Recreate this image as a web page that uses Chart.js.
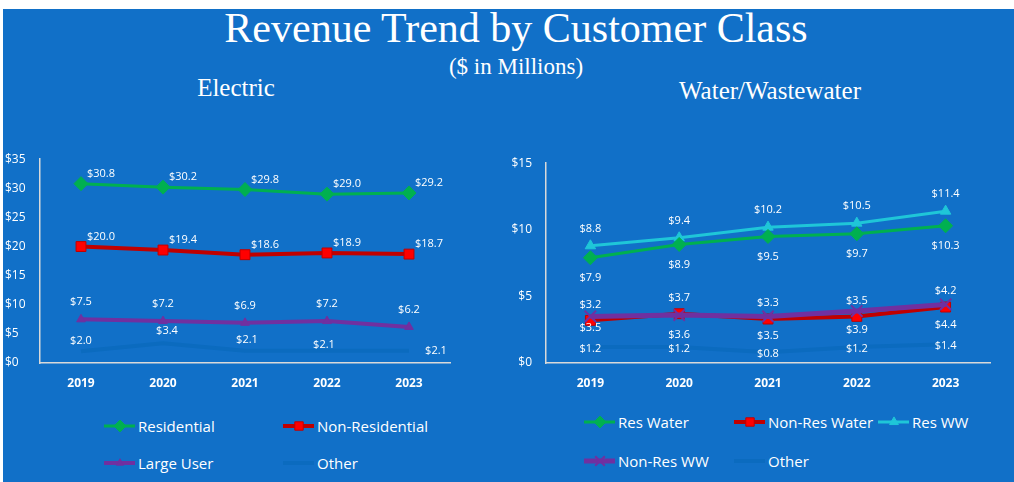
<!DOCTYPE html>
<html>
<head>
<meta charset="utf-8">
<script src="https://cdn.jsdelivr.net/npm/chart.js@4.4.1/dist/chart.umd.min.js"></script>
<style>
    html, body { margin: 0; padding: 0; background: #ffffff; width: 1014px; height: 482px; overflow: hidden; }
    #panel { position: absolute; left: 3px; top: 9px; width: 1011px; height: 473px; background: #1170C8; }
    .serif { position: absolute; color: #ffffff; font-family: "Liberation Serif", "Times New Roman", serif; white-space: nowrap; text-align: center; }
    #title { left: 0; width: 1032px; top: 7px; font-size: 42px; line-height: 42px; }
    #subtitle { left: 0; width: 1032px; top: 55px; font-size: 23px; line-height: 23px; }
    #elecTitle { left: 136px; width: 200px; top: 75px; font-size: 25px; line-height: 25px; }
    #waterTitle { left: 620px; width: 300px; top: 78px; font-size: 25px; line-height: 25px; }
    .box { position: absolute; }
    .box canvas { display: block; }
    .legItem { position: absolute; height: 20px; display: flex; align-items: center; color: #ffffff;
               font-family: "Open Sans", sans-serif; font-size: 15px; white-space: nowrap; }
    .legItem canvas { margin-right: 2px; }
</style>
</head>
<body>
<div id="panel"></div>
<div class="serif" id="title">Revenue Trend by Customer Class</div>
<div class="serif" id="subtitle">($ in Millions)</div>
<div class="serif" id="elecTitle">Electric</div>
<div class="serif" id="waterTitle">Water/Wastewater</div>

<div class="box" style="left:0px;top:138px;width:470px;height:260px;"><canvas id="electricChart" width="470" height="260"></canvas></div>
<div class="box" style="left:490px;top:142px;width:520px;height:256px;"><canvas id="waterChart" width="520" height="256"></canvas></div>
<div id="legends"></div>

<script>
// ---- data ----
const years = ['2019', '2020', '2021', '2022', '2023'];

const elecNames = ['Residential', 'Non-Residential', 'Large User', 'Other'];
const elecResidential = [30.8, 30.2, 29.8, 29.0, 29.2];
const elecNonResidential = [20.0, 19.4, 18.6, 18.9, 18.7];
const elecLargeUser = [7.5, 7.2, 6.9, 7.2, 6.2];
const elecOther = [2.0, 3.4, 2.1, 2.1, 2.1];
const elecTicks = [0, 5, 10, 15, 20, 25, 30, 35];

const waterNames = ['Res Water', 'Non-Res Water', 'Res WW', 'Non-Res WW', 'Other'];
const resWater = [7.9, 8.9, 9.5, 9.7, 10.3];
const nonResWater = [3.2, 3.7, 3.3, 3.5, 4.2];
const resWW = [8.8, 9.4, 10.2, 10.5, 11.4];
const nonResWW = [3.5, 3.6, 3.5, 3.9, 4.4];
const waterOther = [1.2, 1.2, 0.8, 1.2, 1.4];
const waterTicks = [0, 5, 10, 15];

// ---- styles ----
const GREEN = '#00B050';
const RED = '#C00000';
const PURPLE = '#7030A0';
const CYAN = '#1FC6D8';
const OTHER_BLUE = '#0B6BBF';
const AXIS = '#D9D9D9';

function series(label, data, color, fill, style, radius, width, dx, dy) {
    return {
        label: label,
        data: data,
        borderColor: color,
        backgroundColor: fill,
        pointBackgroundColor: fill,
        pointBorderColor: color,
        pointStyle: style,
        pointRadius: radius,
        pointBorderWidth: 1,
        borderWidth: width,
        tension: 0,
        labelDx: dx,
        labelDy: dy
    };
}

// value labels drawn next to every point
const valueLabels = {
    id: 'valueLabels',
    afterDatasetsDraw(chart) {
        const ctx = chart.ctx;
        ctx.save();
        ctx.font = '11px "Open Sans", sans-serif';
        ctx.fillStyle = '#ffffff';
        ctx.textAlign = 'center';
        ctx.textBaseline = 'middle';
        chart.data.datasets.forEach((ds, i) => {
            const meta = chart.getDatasetMeta(i);
            meta.data.forEach((pt, j) => {
                const dx = Array.isArray(ds.labelDx) ? ds.labelDx[j] : ds.labelDx;
                const dy = Array.isArray(ds.labelDy) ? ds.labelDy[j] : ds.labelDy;
                ctx.fillText('$' + ds.data[j].toFixed(1), pt.x + dx, pt.y + dy);
            });
        });
        ctx.restore();
    }
};

function makeOptions(maxVal, ticks, yWidth, pad, farAlign) {
    return {
        responsive: false,
        animation: false,
        layout: { padding: pad },
        plugins: { legend: { display: false }, tooltip: { enabled: false } },
        scales: {
            x: {
                offset: true,
                grid: { display: false, drawTicks: false },
                border: { display: true, color: AXIS, width: 1.5 },
                ticks: { color: '#ffffff', padding: 13, font: { family: 'Open Sans', size: 12, weight: 'bold' } },
                afterFit: function (axis) { axis.height = 35; }
            },
            y: {
                min: 0,
                max: maxVal,
                afterBuildTicks: function (axis) { axis.ticks = ticks.map(v => ({ value: v })); },
                grid: { display: false, drawTicks: false },
                border: { display: true, color: AXIS, width: 1.5 },
                ticks: {
                    color: '#ffffff',
                    padding: 14,
                    autoSkip: false,
                    crossAlign: farAlign ? 'far' : 'near',
                    font: { family: 'Open Sans', size: 12 },
                    callback: function (v) { return '$' + v; }
                },
                afterFit: function (axis) { axis.width = yWidth; }
            }
        }
    };
}

const elecDatasets = [
    series(elecNames[0], elecResidential, GREEN, GREEN, 'rectRot', 7, 3, 20, -10),
    series(elecNames[1], elecNonResidential, RED, '#FF0000', 'rect', 7, 4, 20, -10),
    series(elecNames[2], elecLargeUser, PURPLE, PURPLE, 'triangle', 5, 4, 0, -17),
    series(elecNames[3], elecOther, OTHER_BLUE, OTHER_BLUE, 'circle', 0, 4, [0, 4, 2, -3, 27], [-10, -12, -11, -6, 0])
];

const waterDatasets = [
    series(waterNames[0], resWater, GREEN, GREEN, 'rectRot', 7, 3, 0, 20),
    series(waterNames[1], nonResWater, RED, '#FF0000', 'rect', 7, 4, 0, -16),
    series(waterNames[2], resWW, CYAN, CYAN, 'triangle', 6, 3, 0, -17),
    series(waterNames[3], nonResWW, PURPLE, PURPLE, 'crossRot', 8, 5, 0, [11, 20, 19, 19, 20]),
    series(waterNames[4], waterOther, OTHER_BLUE, OTHER_BLUE, 'circle', 0, 4, 0, 2)
];
waterDatasets[3].pointBorderWidth = 2;
waterDatasets[3].order = -1; // purple line sits on top of the red one

const electricChart = new Chart(document.getElementById('electricChart').getContext('2d'), {
    type: 'line',
    data: { labels: years, datasets: elecDatasets },
    options: makeOptions(35, elecTicks, 35, { left: 5, top: 4, right: 20, bottom: 0 }, true),
    plugins: [valueLabels]
});

const waterChart = new Chart(document.getElementById('waterChart').getContext('2d'), {
    type: 'line',
    data: { labels: years, datasets: waterDatasets },
    options: makeOptions(15, waterTicks, 56, { left: 0, top: 12, right: 20, bottom: 0 }, false),
    plugins: [valueLabels]
});

// ---- html legends, markers drawn with the library's point helper ----
function legendItem(ds, left, top) {
    const item = document.createElement('div');
    item.className = 'legItem';
    item.style.left = left + 'px';
    item.style.top = (top - 10) + 'px';
    const c = document.createElement('canvas');
    c.width = 32; c.height = 20;
    const ctx = c.getContext('2d');
    ctx.strokeStyle = ds.borderColor;
    ctx.lineWidth = ds.borderWidth;
    ctx.beginPath(); ctx.moveTo(0, 10); ctx.lineTo(31, 10); ctx.stroke();
    if (ds.pointRadius > 0 && Chart.helpers && Chart.helpers.drawPoint) {
        ctx.fillStyle = ds.pointBackgroundColor;
        ctx.strokeStyle = ds.pointBorderColor;
        ctx.lineWidth = ds.pointBorderWidth;
        Chart.helpers.drawPoint(ctx, { pointStyle: ds.pointStyle, radius: ds.pointRadius * 0.85, rotation: 0, borderWidth: ds.pointBorderWidth }, 16, 10);
    }
    item.appendChild(c);
    const span = document.createElement('span');
    span.textContent = ds.label;
    item.appendChild(span);
    document.getElementById('legends').appendChild(item);
}

legendItem(elecDatasets[0], 104, 426);
legendItem(elecDatasets[1], 283, 426);
legendItem(elecDatasets[2], 104, 463);
legendItem(elecDatasets[3], 283, 463);

legendItem(waterDatasets[0], 584, 422);
legendItem(waterDatasets[1], 734, 422);
legendItem(waterDatasets[2], 878, 422);
legendItem(waterDatasets[3], 584, 461);
legendItem(waterDatasets[4], 734, 461);
</script>
</body>
</html>
